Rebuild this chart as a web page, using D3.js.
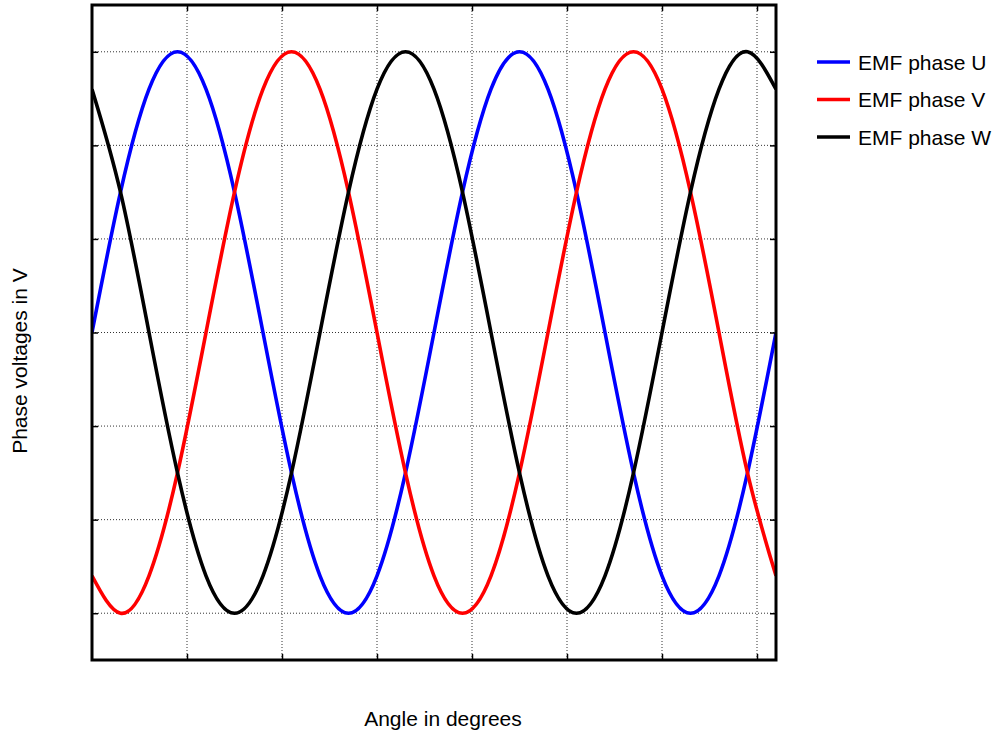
<!DOCTYPE html>
<html>
<head>
    <script src="https://cdnjs.cloudflare.com/ajax/libs/d3/7.8.5/d3.min.js"></script>
    <style>
        body { margin: 0; background: white; }
        text { font-family: "Liberation Sans", Arial, sans-serif; }
    </style>
</head>
<body>
    <div id="chart"></div>
    <script>
        // angle samples in degrees (every 30°)
        const angles = [0, 30, 60, 90, 120, 150, 180, 210, 240, 270, 300, 330, 360,
                        390, 420, 450, 480, 510, 540, 570, 600, 630, 660, 690, 720];
        // voltages
        const phaseU = [0, 150, 260, 300, 260, 150, 0, -150, -260, -300, -260, -150, 0,
                        150, 260, 300, 260, 150, 0, -150, -260, -300, -260, -150, 0];
        const phaseV = [-260, -300, -260, -150, 0, 150, 260, 300, 260, 150, 0, -150, -260,
                        -300, -260, -150, 0, 150, 260, 300, 260, 150, 0, -150, -260];
        const phaseW = [260, 150, 0, -150, -260, -300, -260, -150, 0, 150, 260, 300, 260,
                        150, 0, -150, -260, -300, -260, -150, 0, 150, 260, 300, 260];
        const seriesNames = ["EMF phase U", "EMF phase V", "EMF phase W"];
        const seriesColors = ["#0000ff", "#ff0000", "#000000"];
        const xTicks = [100, 200, 300, 400, 500, 600, 700];
        const yTicks = [-300, -200, -100, 0, 100, 200, 300];

        const width = 998, height = 734;
        const plotLeft = 92, plotRight = 776, plotTop = 5, plotBottom = 660;

        const svg = d3.select("#chart").append("svg")
            .attr("width", width)
            .attr("height", height);

        const x = d3.scaleLinear().domain([0, 720]).range([plotLeft, plotRight]);
        const y = d3.scaleLinear().domain([-350, 350]).range([plotBottom, plotTop]);

        // dotted grid
        const grid = svg.append("g");
        xTicks.forEach(t => {
            grid.append("line")
                .attr("x1", x(t)).attr("x2", x(t))
                .attr("y1", plotTop).attr("y2", plotBottom)
                .attr("stroke", "#333").attr("stroke-width", 1)
                .attr("stroke-dasharray", "1,2");
        });
        yTicks.forEach(t => {
            grid.append("line")
                .attr("x1", plotLeft).attr("x2", plotRight)
                .attr("y1", y(t)).attr("y2", y(t))
                .attr("stroke", "#333").attr("stroke-width", 1)
                .attr("stroke-dasharray", "1,2");
        });

        // series
        const allSeries = [phaseU, phaseV, phaseW];
        const line = d3.line()
            .x((d, i) => x(angles[i]))
            .y(d => y(d))
            .curve(d3.curveNatural);

        svg.append("defs").append("clipPath").attr("id", "clip")
            .append("rect").attr("x", plotLeft).attr("y", plotTop)
            .attr("width", plotRight - plotLeft).attr("height", plotBottom - plotTop);

        allSeries.forEach((vals, i) => {
            svg.append("path")
                .attr("clip-path", "url(#clip)")
                .attr("d", line(vals))
                .attr("fill", "none")
                .attr("stroke", seriesColors[i])
                .attr("stroke-width", 3.6);
        });

        // axes with inward ticks, no labels
        const tickLen = 6;
        const axisStyle = g => {
            g.select(".domain").remove();
            g.selectAll("text").remove();
            g.selectAll("line").attr("stroke", "#000").attr("stroke-width", 1.5);
        };
        svg.append("g").attr("transform", `translate(0,${plotBottom})`)
            .call(d3.axisBottom(x).tickValues(xTicks).tickSize(-tickLen)).call(axisStyle);
        svg.append("g").attr("transform", `translate(0,${plotTop})`)
            .call(d3.axisTop(x).tickValues(xTicks).tickSize(-tickLen)).call(axisStyle);
        svg.append("g").attr("transform", `translate(${plotLeft},0)`)
            .call(d3.axisLeft(y).tickValues(yTicks).tickSize(-tickLen)).call(axisStyle);
        svg.append("g").attr("transform", `translate(${plotRight},0)`)
            .call(d3.axisRight(y).tickValues(yTicks).tickSize(-tickLen)).call(axisStyle);

        // frame
        svg.append("rect")
            .attr("x", plotLeft).attr("y", plotTop)
            .attr("width", plotRight - plotLeft).attr("height", plotBottom - plotTop)
            .attr("fill", "none").attr("stroke", "#000").attr("stroke-width", 3);

        // axis labels
        svg.append("text")
            .attr("x", 443).attr("y", 726)
            .attr("text-anchor", "middle")
            .attr("font-size", "21px")
            .text("Angle in degrees");

        svg.append("text")
            .attr("transform", "translate(27,361) rotate(-90)")
            .attr("text-anchor", "middle")
            .attr("font-size", "21px")
            .text("Phase voltages in V");

        // legend
        const legend = svg.append("g");
        seriesNames.forEach((name, i) => {
            const ly = 62 + i * 37.5;
            legend.append("line")
                .attr("x1", 817).attr("x2", 850)
                .attr("y1", ly).attr("y2", ly)
                .attr("stroke", seriesColors[i]).attr("stroke-width", 3.5);
            legend.append("text")
                .attr("x", 858).attr("y", ly + 7.5)
                .attr("font-size", "21px")
                .text(name);
        });
    </script>
</body>
</html>
